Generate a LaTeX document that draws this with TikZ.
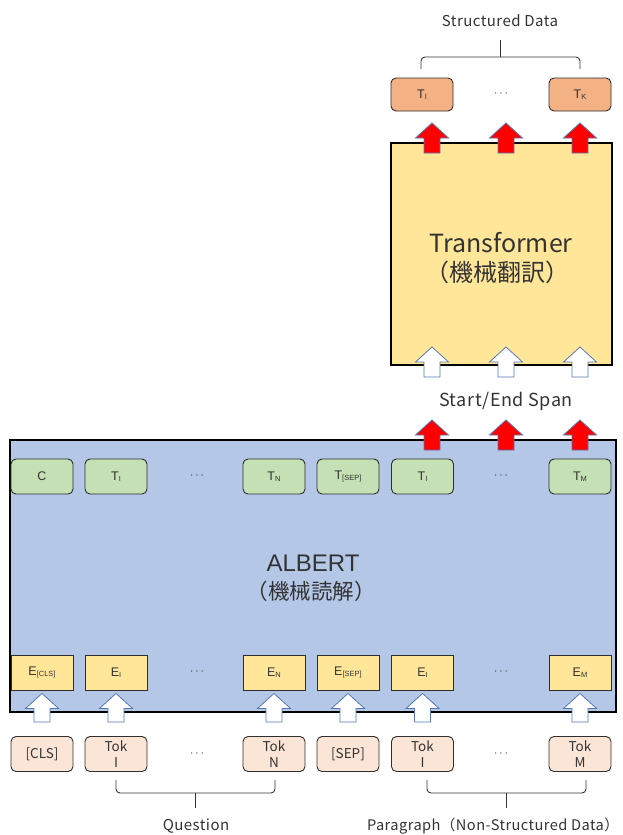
\documentclass[tikz,border=0pt]{standalone}
\usepackage{fontspec}
\setmainfont{Liberation Sans}
\newfontfamily\rnd{Noto Sans CJK JP}
\newfontfamily\rndwide[LetterSpace=3]{Noto Sans CJK JP}
\usetikzlibrary{calc}

\definecolor{albertblue}{HTML}{B4C7E7}
\definecolor{tgreen}{HTML}{C5E0B4}
\definecolor{eyellow}{HTML}{FFE699}
\definecolor{tokpeach}{HTML}{FBE5D6}
\definecolor{outorange}{HTML}{F4B183}
\definecolor{arrowblue}{HTML}{5677B4}
\definecolor{boxline}{HTML}{2E2E2E}
\definecolor{txt}{HTML}{333333}

% small lowered index used in token labels
\newcommand\lowidx[1]{\raisebox{-1.2pt}{\fontsize{7.5}{8}\selectfont #1}}

% upward block arrow: style, tail point, tip point
\newcommand\blockup[3]{%
  \path[#1] let \p1=#2, \p2=#3 in
    (\x1-8pt,\y1) -- (\x1-8pt,\y2-15pt) -- (\x1-16.5pt,\y2-15pt) -- (\x1,\y2)
    -- (\x1+16.5pt,\y2-15pt) -- (\x1+8pt,\y2-15pt) -- (\x1+8pt,\y1) -- cycle;}

\begin{document}
\begin{tikzpicture}[x=1pt,y=-1pt,
  box/.style={draw=boxline, line width=0.9pt, minimum width=62pt, minimum height=35pt,
    inner sep=0pt, text=txt, font=\fontsize{12.5}{14}\selectfont},
  tbox/.style={box, fill=tgreen, rounded corners=5pt},
  ebox/.style={box, fill=eyellow},
  tokbox/.style={box, fill=tokpeach, rounded corners=5pt, align=center,
    font=\rnd\fontsize{13.5}{15.5}\selectfont},
  obox/.style={box, fill=outorange, rounded corners=5pt, minimum height=33pt},
  bigbox/.style={draw=black, line width=1.6pt, inner sep=0pt},
  dots/.style={text=txt, font=\fontsize{12}{14}\selectfont},
  lbl/.style={text=txt, inner sep=0pt, font=\rndwide\fontsize{15}{17}\selectfont},
  whitearr/.style={fill=white, draw=arrowblue, line width=0.8pt},
  redarr/.style={fill=red, draw=arrowblue, line width=0.8pt},
  brace/.style={draw=txt, line width=0.9pt, rounded corners=4pt},
]
\useasboundingbox (0,0) rectangle (622,835);

% ---------- ALBERT encoder ----------
\node[bigbox, fill=albertblue, minimum width=606pt, minimum height=272pt] (albert) at (313,576) {};
\node[text=txt, inner sep=0pt, font=\fontsize{24}{26}\selectfont] (albert-name) at (313,563.5) {ALBERT};
\node[text=txt, inner sep=0pt, font=\rnd\fontsize{21.5}{23}\selectfont] (albert-sub) at (311,591) {（機械読解）};

% output row
\node[tbox] (t-c)   at (42,476.5)  {C};
\node[tbox] (t-q1)  at (116,476.5) {T\lowidx{I}};
\node[dots] (t-d1)  at (197,476)   {$\cdots$};
\node[tbox] (t-qn)  at (274,476.5) {T\lowidx{N}};
\node[tbox] (t-sep) at (348,476.5) {T\lowidx{[SEP]}};
\node[tbox] (t-p1)  at (422.5,476.5) {T\lowidx{I}};
\node[dots] (t-d2)  at (501,476)   {$\cdots$};
\node[tbox] (t-pm)  at (580,476.5) {T\lowidx{M}};

% embedding row
\node[ebox] (e-c)   at (42,672.5)  {E\lowidx{[CLS]}};
\node[ebox] (e-q1)  at (116,672.5) {E\lowidx{I}};
\node[dots] (e-d1)  at (197,672)   {$\cdots$};
\node[ebox] (e-qn)  at (274,672.5) {E\lowidx{N}};
\node[ebox] (e-sep) at (348,672.5) {E\lowidx{[SEP]}};
\node[ebox] (e-p1)  at (422.5,672.5) {E\lowidx{I}};
\node[dots] (e-d2)  at (501,672)   {$\cdots$};
\node[ebox] (e-pm)  at (580,672.5) {E\lowidx{M}};

% input tokens
\node[tokbox] (k-c)   at (42,754)  {[CLS]};
\node[tokbox] (k-q1)  at (116,754) {Tok\\I};
\node[dots]   (k-d1)  at (197,754) {$\cdots$};
\node[tokbox] (k-qn)  at (274,754) {Tok\\N};
\node[tokbox] (k-sep) at (348,754) {[SEP]};
\node[tokbox] (k-p1)  at (422.5,754) {Tok\\I};
\node[dots]   (k-d2)  at (501,754) {$\cdots$};
\node[tokbox] (k-pm)  at (580,754) {Tok\\M};

% token -> embedding arrows
\foreach \col in {c,q1,qn,sep,p1,pm}
  \blockup{whitearr}{($(k-\col.north)+(0,-14)$)}{($(e-\col.south)+(0,3)$)};

% braces under the inputs
\draw[brace] (116,780) -- (116,793) -- (275,793) -- (275,780);
\draw[brace] (195.5,793) -- (195.5,808);
\node[lbl] (question) at (196,826) {Question};
\draw[brace] (427,780) -- (427,793) -- (586,793) -- (586,780);
\draw[brace] (506,793) -- (506,808);
\node[lbl, font=\rndwide\fontsize{14.6}{16}\selectfont] (paragraph) at (493,826) {Paragraph（Non-Structured Data）};

% span outputs leaving ALBERT
\foreach \xx in {432,506,580}
  \blockup{redarr}{(\xx,450)}{(\xx,420)};
\node[lbl, font=\rndwide\fontsize{18}{20}\selectfont] (span) at (506,401) {Start/End Span};

% ---------- Transformer ----------
\node[bigbox, fill=eyellow, minimum width=221pt, minimum height=222pt] (trans) at (501.5,254) {};
\node[text=txt, inner sep=0pt, font=\rnd\fontsize{25}{27}\selectfont] (trans-name) at (501,243) {Transformer};
\node[text=txt, inner sep=0pt, font=\rnd\fontsize{24}{26}\selectfont] (trans-sub) at (497,272) {（機械翻訳）};

\foreach \xx in {432,506,580}
  \blockup{whitearr}{(\xx,377)}{(\xx,347)};
\foreach \xx in {432,506,580}
  \blockup{redarr}{(\xx,153)}{(\xx,123)};

% structured outputs
\node[obox] (o-1) at (422,94.5) {T\lowidx{I}};
\node[dots] (o-d) at (501,94)   {$\cdots$};
\node[obox] (o-k) at (580,94.5) {T\lowidx{K}};

\draw[brace] (421,69) -- (421,57) -- (580,57) -- (580,69);
\draw[brace] (500.5,57) -- (500.5,40);
\node[lbl] (structured) at (500,21) {Structured Data};
\end{tikzpicture}
\end{document}
